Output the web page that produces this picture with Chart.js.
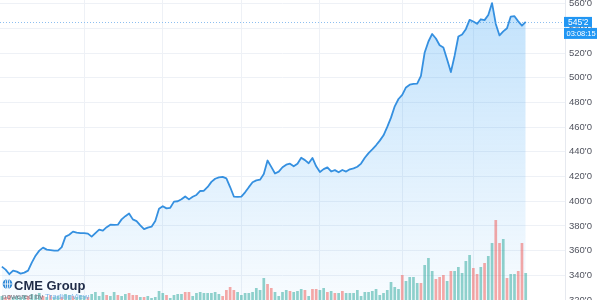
<!DOCTYPE html>
<html>
<head>
<meta charset="utf-8">
<script src="https://cdn.jsdelivr.net/npm/chart.js@4"></script>
<style>
html, body { margin: 0; padding: 0; background: #fff; }
#js--chart { display: block; }
</style>
</head>
<body>
<canvas id="js--chart" width="600" height="300"></canvas>
<script>
// daily settlement, cents per bushel (eighths: 545'2 = 545 2/8)
const closes = [
  347.0, 344.6, 340.9, 343.8, 343.0, 341.4, 342.2, 343.8, 350.3, 355.9,
  360.0, 362.4, 360.8, 360.4, 360.0, 360.0, 362.8, 371.3, 372.9, 375.4,
  374.6, 374.2, 374.2, 373.8, 371.3, 374.2, 377.0, 376.2, 379.0, 381.0,
  380.8, 381.0, 385.3, 387.9, 390.1, 385.3, 383.9, 380.5, 377.4, 378.6,
  379.4, 383.9, 394.0, 396.0, 394.2, 394.7, 399.7, 400.0, 401.6, 403.9,
  401.5, 403.6, 405.1, 408.3, 408.5, 411.6, 415.7, 418.2, 419.3, 419.7,
  418.5, 411.5, 403.8, 403.6, 403.7, 407.2, 411.4, 415.4, 416.9, 417.5,
  422.0, 433.0, 427.8, 422.5, 424.0, 427.5, 429.6, 430.4, 428.3, 430.4,
  435.2, 433.3, 430.8, 435.1, 428.3, 423.7, 426.0, 427.4, 424.1, 425.2,
  423.4, 425.3, 424.0, 425.9, 426.6, 427.9, 430.5, 435.2, 439.0, 442.0,
  445.3, 449.1, 453.4, 460.2, 467.7, 476.9, 482.8, 486.2, 492.2, 494.4,
  495.0, 495.3, 501.5, 520.5, 529.4, 535.5, 531.8, 526.3, 524.5, 514.8,
  504.6, 517.9, 533.4, 535.0, 539.4, 546.9, 545.6, 543.7, 547.4, 546.7,
  550.9, 560.5, 543.6, 534.3, 537.6, 540.1, 549.6, 549.9, 545.7, 542.2,
  545.25
];

// volume, thousands of contracts
const volume = [
  4, 3, 5, 3, 4, 3, 5, 4, 6, 5, 7, 4, 3, 5, 3, 4, 3, 6, 5, 4,
  3, 5, 4, 3, 6, 8, 4, 8, 5, 4, 8, 5, 4, 6, 7,
  5, 5, 3, 3, 4, 2, 3, 9, 7, 5, 2, 5, 6, 6, 8, 8, 4, 7, 8, 7,
  7, 7, 8, 6, 4, 10, 13, 10, 8, 5, 7, 7, 8, 12,
  10, 22, 16, 12, 8, 4, 8, 10, 9, 8, 9, 11, 10, 4, 11, 11, 10, 12, 8, 9,
  7, 7, 9, 7, 7, 7, 10, 4, 8, 8, 9, 11, 5, 7, 10,
  18, 13, 11, 25, 19, 23, 23, 17, 17, 35, 42, 29, 21, 23, 25, 19, 29, 29, 33, 27,
  39, 45, 32, 26, 33, 37, 44, 57, 80, 57, 61, 22, 26, 26, 29, 57, 27
];

// 1 = up session, 0 = down session
const volumeUp = [
  1, 0, 0, 1, 1, 1, 1, 0, 1, 1, 1, 0, 1, 0, 1, 1, 0, 1, 1, 0,
  1, 1, 1, 0, 1, 1, 1, 1, 0, 1, 1, 0, 1, 1, 0,
  0, 0, 1, 0, 1, 1, 1, 1, 1, 0, 1, 1, 1, 1, 0, 0, 1, 1, 1, 1,
  1, 1, 1, 1, 0, 0, 0, 0, 1, 1, 1, 1, 1, 1,
  1, 1, 0, 0, 1, 1, 1, 1, 0, 1, 1, 1, 0, 1, 0, 0, 1, 1, 0, 1,
  0, 1, 0, 1, 1, 1, 1, 1, 1, 1, 1, 1, 1, 1, 1,
  1, 1, 1, 0, 1, 1, 1, 1, 0, 1, 1, 1, 0, 0, 0, 1, 0, 1, 1, 1,
  1, 1, 0, 0, 1, 0, 1, 1, 0, 0, 1, 0, 1, 1, 0, 0, 1
];

// sessions where a new month starts (vertical grid)
const monthStarts = [22, 43, 64, 85, 107, 126];
const emptySessions = 10;

const lastPrice = 545.25;
const lastPriceLabel = "545'2";
const countdown = "03:08:15";

const labels = closes.map((_, i) => i + 1).concat(Array(emptySessions).fill(''));

const formatPrice = (v) => Math.floor(v) + "'" + Math.round((v % 1) * 8);

const gridColor = '#eef1f6';
const blue = '#2196f3';

const overlay = {
  id: 'overlay',
  beforeDatasetsDraw(chart) {
    const { ctx, chartArea } = chart;
    const y = Math.round(chart.scales.y.getPixelForValue(lastPrice)) + 0.5;
    ctx.save();
    ctx.strokeStyle = '#8dbff0';
    ctx.lineWidth = 1;
    ctx.setLineDash([1, 2]);
    ctx.beginPath();
    ctx.moveTo(chartArea.left, y);
    ctx.lineTo(chartArea.right, y);
    ctx.stroke();
    ctx.restore();
  },
  afterDraw(chart) {
    const { ctx, chartArea } = chart;
    const y = chart.scales.y.getPixelForValue(lastPrice);
    const x = chartArea.right - 1;
    ctx.save();
    // last price + countdown boxes
    ctx.fillStyle = blue;
    ctx.fillRect(x, y - 5, 28, 10);
    ctx.fillRect(x, y + 6, 33, 11);
    ctx.fillStyle = '#fff';
    ctx.font = '8.5px "Liberation Sans"';
    ctx.textBaseline = 'middle';
    ctx.fillText(lastPriceLabel, x + 4, y + 0.5);
    ctx.font = '7.5px "Liberation Sans"';
    ctx.fillText(countdown, x + 2.5, y + 12);

    // watermark
    ctx.fillStyle = '#2a86d6';
    ctx.beginPath();
    ctx.arc(7.5, 284, 4.8, 0, Math.PI * 2);
    ctx.fill();
    ctx.strokeStyle = '#fff';
    ctx.lineWidth = 0.8;
    ctx.beginPath();
    ctx.moveTo(2.7, 284); ctx.lineTo(12.3, 284);
    ctx.moveTo(7.5, 279.2); ctx.lineTo(7.5, 288.8);
    ctx.stroke();
    ctx.beginPath();
    ctx.ellipse(7.5, 284, 2.2, 4.8, 0, 0, Math.PI * 2);
    ctx.stroke();

    ctx.textBaseline = 'alphabetic';
    ctx.fillStyle = '#1f2b47';
    ctx.font = 'bold 13px "Liberation Sans"';
    ctx.fillText('CME Group', 14, 290);
    ctx.font = '8px "Liberation Sans"';
    ctx.fillStyle = '#6e7480';
    ctx.fillText('powered by', 2, 299);
    ctx.fillStyle = '#7ab4e8';
    ctx.fillText('TradingView', 45, 299);
    ctx.restore();
  }
};

new Chart(document.getElementById('js--chart'), {
  type: 'bar',
  data: {
    labels: labels,
    datasets: [
      {
        type: 'line',
        label: 'Price',
        data: closes,
        yAxisID: 'y',
        borderColor: '#3590e0',
        borderWidth: 1.8,
        borderJoinStyle: 'round',
        pointRadius: 0,
        tension: 0,
        fill: 'start',
        order: 1,
        backgroundColor: (c) => {
          const { ctx, chartArea } = c.chart;
          if (!chartArea) return 'rgba(33,150,243,0.15)';
          const g = ctx.createLinearGradient(0, chartArea.top, 0, chartArea.bottom);
          g.addColorStop(0, 'rgba(33,150,243,0.28)');
          g.addColorStop(1, 'rgba(33,150,243,0.03)');
          return g;
        }
      },
      {
        label: 'Volume',
        data: volume,
        yAxisID: 'vol',
        barPercentage: 0.72,
        categoryPercentage: 1,
        order: 0,
        backgroundColor: (c) => volumeUp[c.dataIndex] ? 'rgba(38,166,154,0.5)' : 'rgba(239,83,80,0.5)'
      }
    ]
  },
  options: {
    responsive: false,
    animation: false,
    layout: { padding: 0 },
    plugins: { legend: { display: false }, tooltip: { enabled: false } },
    scales: {
      x: {
        offset: true,
        grid: {
          offset: false,
          drawTicks: false,
          color: (c) => monthStarts.includes(c.index) ? gridColor : 'transparent'
        },
        border: { display: false },
        ticks: { display: false },
        afterFit: (s) => { s.paddingLeft = 0; s.paddingRight = 0; }
      },
      y: {
        position: 'right',
        min: 320,
        max: 563,
        grid: { color: gridColor, drawTicks: false },
        border: { display: true, color: '#e6e9ef' },
        ticks: {
          stepSize: 20,
          includeBounds: false,
          padding: 4,
          color: '#50535e',
          font: { family: '"Liberation Sans"', size: 9.5 },
          callback: (v) => formatPrice(v)
        },
        afterFit: (s) => { s.width = 35; s.paddingTop = 0; s.paddingBottom = 0; }
      },
      vol: {
        display: false,
        min: 0,
        max: 300
      }
    }
  },
  plugins: [overlay]
});
</script>
</body>
</html>
